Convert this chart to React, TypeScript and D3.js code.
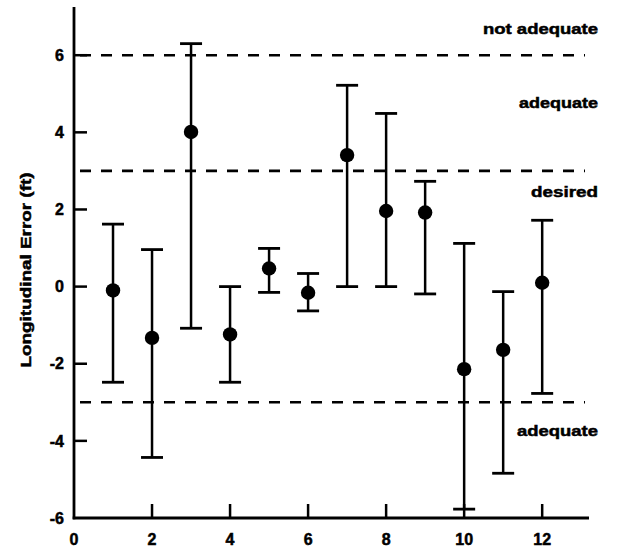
import React from "react";
import * as d3 from "d3";

const runs = [1, 2, 3, 4, 5, 6, 7, 8, 9, 10, 11, 12];
const means = [-0.1, -1.33, 4.01, -1.24, 0.47, -0.16, 3.41, 1.96, 1.92, -2.14, -1.64, 0.1];
const upper = [1.62, 0.96, 6.3, 0.0, 0.99, 0.34, 5.22, 4.49, 2.73, 1.12, -0.13, 1.72];
const lower = [-2.48, -4.43, -1.08, -2.48, -0.15, -0.63, 0.0, 0.0, -0.19, -5.77, -4.84, -2.77];
const xTicks = [0, 2, 4, 6, 8, 10, 12];
const yTicks = [-6, -4, -2, 0, 2, 4, 6];
const thresholds = [6, 3, -3];
const zoneLabels = [
  { text: "not adequate", y: 6.55, width: 115 },
  { text: "adequate", y: 4.63, width: 79 },
  { text: "desired", y: 2.32, width: 67 },
  { text: "adequate", y: -3.88, width: 81 },
];
const yTitle = "Longitudinal Error (ft)";

export default function App() {
  const x = d3.scaleLinear().domain([0, 13.2]).range([74, 589]);
  const y = d3.scaleLinear().domain([-6, 7.25]).range([518, 7]);
  const font = "'Liberation Sans', Arial, sans-serif";
  const capW = 11;
  const ts = { stroke: "#000", strokeWidth: 0.5 };
  return (
    <svg
      width={617}
      height={550}
      style={{ position: "absolute", left: 0, top: 0, background: "#fff" }}
      fontFamily={font}
      fontWeight="bold"
    >
      {thresholds.map((t) => (
        <line
          key={t}
          x1={x(0)}
          x2={585}
          y1={y(t)}
          y2={y(t)}
          stroke="#000"
          strokeWidth={2.6}
          strokeDasharray="11,10"
          strokeDashoffset={-6}
        />
      ))}
      {zoneLabels.map((z, i) => (
        <text
          key={i}
          x={598}
          y={y(z.y)}
          textAnchor="end"
          fontSize={15}
          textLength={z.width}
          lengthAdjust="spacingAndGlyphs"
          {...ts}
        >
          {z.text}
        </text>
      ))}
      {runs.map((r, i) => (
        <g key={r}>
          <line x1={x(r)} x2={x(r)} y1={y(upper[i])} y2={y(lower[i])} stroke="#000" strokeWidth={2.5} />
          <line x1={x(r) - capW} x2={x(r) + capW} y1={y(upper[i])} y2={y(upper[i])} stroke="#000" strokeWidth={2.8} />
          <line x1={x(r) - capW} x2={x(r) + capW} y1={y(lower[i])} y2={y(lower[i])} stroke="#000" strokeWidth={2.8} />
          <circle cx={x(r)} cy={y(means[i])} r={7.2} fill="#000" />
        </g>
      ))}
      <line x1={x(0)} x2={x(0)} y1={y(7.25)} y2={y(-6) + 1.3} stroke="#000" strokeWidth={2.8} />
      <line x1={x(0) - 1.3} x2={x(13.2)} y1={y(-6)} y2={y(-6)} stroke="#000" strokeWidth={2.8} />
      {xTicks.map((t) => (
        <g key={"x" + t}>
          {t !== 0 && (
            <line x1={x(t)} x2={x(t)} y1={y(-6)} y2={y(-6) - 14} stroke="#000" strokeWidth={2.5} />
          )}
          <text x={x(t)} y={545} textAnchor="middle" fontSize={16} {...ts}>
            {t}
          </text>
        </g>
      ))}
      {yTicks.map((t) => (
        <g key={"y" + t}>
          {t !== -6 && (
            <line x1={x(0)} x2={x(0) + 13} y1={y(t)} y2={y(t)} stroke="#000" strokeWidth={2.5} />
          )}
          <text x={64} y={y(t)} dy="0.36em" textAnchor="end" fontSize={16} {...ts}>
            {t}
          </text>
        </g>
      ))}
      <text
        transform={`translate(31,270) rotate(-90)`}
        textAnchor="middle"
        fontSize={15}
        textLength={195}
        lengthAdjust="spacingAndGlyphs"
        {...ts}
      >
        {yTitle}
      </text>
    </svg>
  );
}
